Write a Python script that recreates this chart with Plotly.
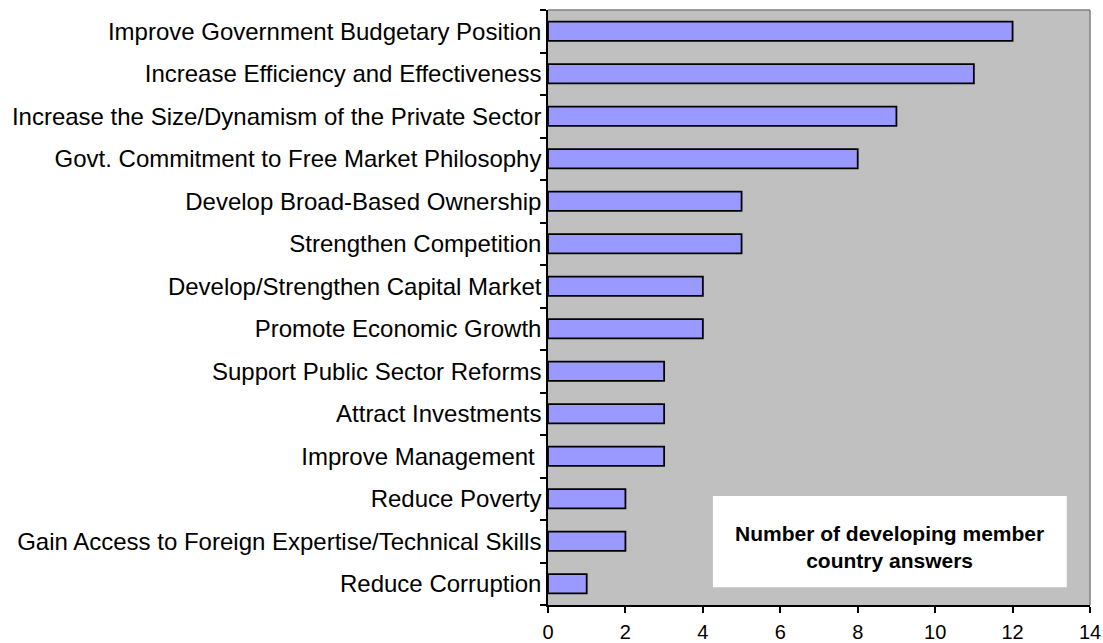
import plotly.graph_objects as go

# Objectives of privatization, ordered top to bottom
objectives = [
    "Improve Government Budgetary Position",
    "Increase Efficiency and Effectiveness",
    "Increase the Size/Dynamism of the Private Sector",
    "Govt. Commitment to Free Market Philosophy",
    "Develop Broad-Based Ownership",
    "Strengthen Competition",
    "Develop/Strengthen Capital Market",
    "Promote Economic Growth",
    "Support Public Sector Reforms",
    "Attract Investments",
    "Improve Management ",
    "Reduce Poverty",
    "Gain Access to Foreign Expertise/Technical Skills",
    "Reduce Corruption",
]
answers = [12, 11, 9, 8, 5, 5, 4, 4, 3, 3, 3, 2, 2, 1]
x_ticks = [0, 2, 4, 6, 8, 10, 12, 14]

# Plotly draws categories bottom-up, so reverse for a top-down list
cats = objectives[::-1]
vals = answers[::-1]

fig = go.Figure(
    go.Bar(
        x=vals,
        y=cats,
        orientation="h",
        marker=dict(color="#9999FF", line=dict(color="black", width=1.8)),
        hoverinfo="x+y",
    )
)

fig.update_layout(
    width=1103,
    height=643,
    margin=dict(l=548, r=13, t=10, b=38),
    paper_bgcolor="white",
    plot_bgcolor="#C0C0C0",
    bargap=0.55,
    showlegend=False,
    font=dict(family="Liberation Sans, Arial, sans-serif", color="black"),
    xaxis=dict(
        range=[0, 14],
        tickvals=x_ticks,
        ticks="outside",
        ticklen=6,
        tickwidth=1.5,
        tickcolor="black",
        showgrid=False,
        zeroline=False,
        showline=True,
        linecolor="black",
        linewidth=1.5,
        tickfont=dict(size=20),
        ticklabelstandoff=2,
        automargin=False,
    ),
    yaxis=dict(
        type="category",
        categoryorder="array",
        categoryarray=cats,
        tickson="boundaries",
        ticks="outside",
        ticklen=6,
        tickwidth=1.5,
        tickcolor="black",
        showgrid=False,
        showline=True,
        linecolor="black",
        linewidth=1.5,
        tickfont=dict(size=24),
        automargin=False,
    ),
    shapes=[
        # gray frame on top and right of the plotting area
        dict(type="line", xref="paper", yref="paper", x0=0, x1=1, y0=1, y1=1,
             line=dict(color="#808080", width=1.5)),
        dict(type="line", xref="paper", yref="paper", x0=1, x1=1, y0=0, y1=1,
             line=dict(color="#808080", width=1.5)),
        # white caption box
        dict(type="rect", xref="x", yref="paper", x0=4.26, x1=13.4, y0=0.030, y1=0.183,
             fillcolor="white", line=dict(width=0), layer="above"),
    ],
    annotations=[
        dict(
            x=8.83, y=0.097, xref="x", yref="paper",
            xanchor="center", yanchor="middle",
            text="<b>Number of developing member<br>country answers</b>",
            showarrow=False, align="center",
            font=dict(size=21, color="black"),
        )
    ],
)

fig.write_html("out.html")
